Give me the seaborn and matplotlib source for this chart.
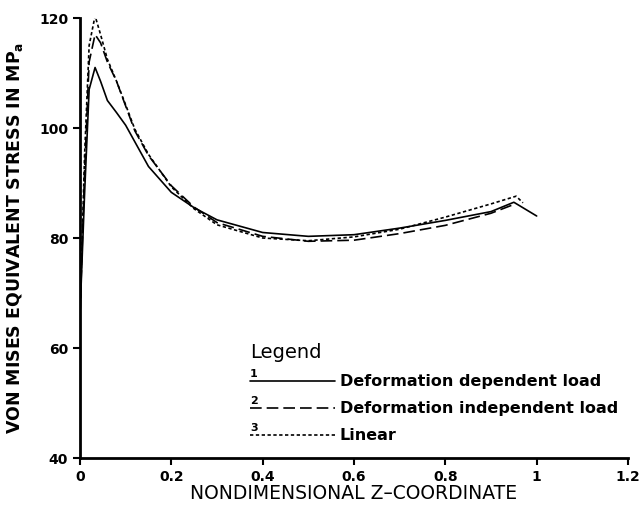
import numpy as np
import pandas as pd
import matplotlib
matplotlib.use("Agg")
import matplotlib.pyplot as plt
import seaborn as sns

# ---- data ----
labels = ["Deformation dependent load", "Deformation independent load", "Linear"]

x1 = [0.0, 0.01, 0.02, 0.033, 0.045, 0.06, 0.08, 0.1, 0.12, 0.15, 0.2, 0.25, 0.3, 0.4, 0.5, 0.6, 0.7, 0.8, 0.9, 0.95, 1.0]
y1 = [66, 88, 107, 111, 108.5, 105, 102.8, 100.5, 97.5, 93, 88.3, 85.5, 83.3, 81, 80.3, 80.6, 81.8, 83.2, 84.8, 86.5, 84]

x2 = [0.0, 0.01, 0.02, 0.033, 0.045, 0.06, 0.08, 0.1, 0.12, 0.15, 0.2, 0.25, 0.3, 0.4, 0.5, 0.6, 0.7, 0.8, 0.9, 0.95]
y2 = [66, 92, 112, 117, 115.5, 112, 108.5, 104, 99.5, 95, 89.5, 85.6, 82.8, 80.3, 79.4, 79.6, 80.8, 82.3, 84.5, 86.1]

x3 = [0.0, 0.01, 0.02, 0.033, 0.045, 0.06, 0.08, 0.1, 0.12, 0.15, 0.2, 0.25, 0.3, 0.4, 0.5, 0.6, 0.7, 0.8, 0.9, 0.955, 0.97]
y3 = [66, 95, 115, 120.4, 117, 112.5, 108.5, 104.2, 99.8, 95.2, 89.3, 85.3, 82.4, 80, 79.5, 80.2, 81.6, 83.8, 86.2, 87.6, 86.4]

x_ticks = [0, 0.2, 0.4, 0.6, 0.8, 1.0, 1.2]
x_ticklabels = ["0", "0.2", "0.4", "0.6", "0.8", "1", "1.2"]
y_ticks = [40, 60, 80, 100, 120]

df = pd.concat([
    pd.DataFrame({"z": x1, "stress": y1, "case": labels[0]}),
    pd.DataFrame({"z": x2, "stress": y2, "case": labels[1]}),
    pd.DataFrame({"z": x3, "stress": y3, "case": labels[2]}),
], ignore_index=True)

sns.set_style("ticks")
plt.rcParams["font.family"] = ["DejaVu Sans"]
plt.rcParams["text.color"] = "black"
plt.rcParams["axes.labelcolor"] = "black"

fig = plt.figure(figsize=(6.39, 5.07), dpi=100)
ax = fig.add_axes([80/639, 1-458/507, (628-80)/639, (458-18)/507])

sns.lineplot(data=df, x="z", y="stress", hue="case", style="case",
             palette=["black"]*3,
             dashes={labels[0]: "", labels[1]: (7, 3), labels[2]: (2, 1.5)},
             linewidth=1.2, sort=False, estimator=None, ax=ax, legend=True)

ax.set_xlim(0, 1.2)
ax.set_ylim(40, 120)
ax.set_xticks(x_ticks)
ax.set_xticklabels(x_ticklabels)
ax.set_yticks(y_ticks)
for lab in ax.get_xticklabels() + ax.get_yticklabels():
    lab.set_fontweight("bold")
    lab.set_fontsize(10)
    lab.set_color("black")
ax.tick_params(direction="out", length=5, width=1.5, colors="black")
for s in ["top", "right"]:
    ax.spines[s].set_visible(False)
for s in ["left", "bottom"]:
    ax.spines[s].set_linewidth(2)
    ax.spines[s].set_color("black")

ax.set_xlabel("NONDIMENSIONAL Z\u2013COORDINATE", fontsize=13.5, labelpad=0, color="black")
ax.set_ylabel("VON MISES EQUIVALENT STRESS IN MP$_\\mathregular{a}$", fontsize=12.5,
              fontweight="bold", labelpad=10, color="black")

handles, lbls = ax.get_legend_handles_labels()
leg = ax.legend(handles, lbls, frameon=False, title="Legend", fontsize=11.5,
                title_fontsize=14, handlelength=5.3, handletextpad=0.3,
                labelspacing=0.75, loc="upper left",
                bbox_to_anchor=(236/639, 1-329/507), bbox_transform=fig.transFigure,
                alignment="left")
leg.get_title().set_color("black")
for t in leg.get_texts():
    t.set_fontweight("bold")
    t.set_color("black")
for i, ypix in enumerate([374, 401, 428]):
    fig.text(250/639, 1-ypix/507, str(i+1), fontsize=8, fontweight="bold", ha="left", va="center")

fig.savefig("out.png", dpi=100)
